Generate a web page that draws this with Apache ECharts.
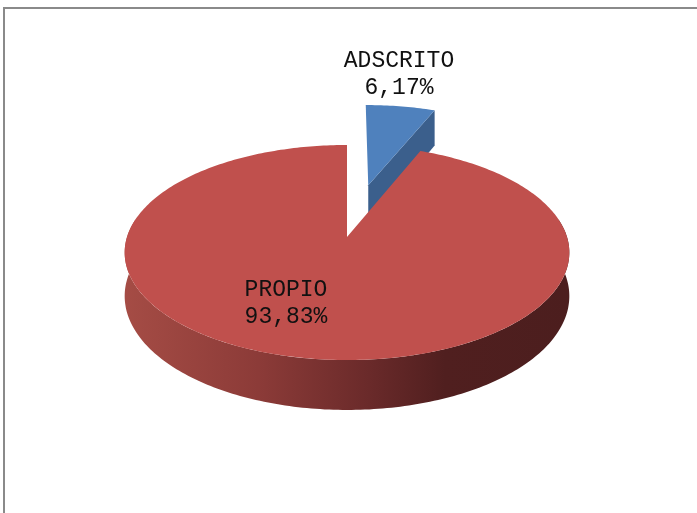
<!DOCTYPE html>
<html>
<head>
<meta charset="utf-8">
<script src="https://cdn.jsdelivr.net/npm/echarts@6/dist/echarts.min.js"></script>
<style>
  html, body { margin: 0; padding: 0; background: #fff; }
  #main { width: 697px; height: 513px; }
</style>
</head>
<body>
<div id="main"></div>
<script>
// datos del grafico
var categories = ['ADSCRITO', 'PROPIO'];
var values = [6.17, 93.83];

var total = values.reduce(function (a, b) { return a + b; }, 0);

// geometria de la tarta 3D (perspectiva simple)
var CX = 347, CY = 237, RX = 220, RY = 105.3, D = 6.93, H = 42.7;
var explodeBy = [0.54, 0];
var topColors = ['#4f81bd', '#c0504d'];
var faceColors = ['#3b5f8c', '#7a2f2d'];
var labelPos = [[399, 74], [286, 303]];

function proj(u, v, down) {
  var s = D / (D - v);
  return [CX + RX * u * s, CY + (RY * v + down) * s];
}
function rad(a) { return a * Math.PI / 180; }

function renderItem(params, api) {
  var i = params.dataIndex;
  var before = 0;
  for (var k = 0; k < i; k++) before += values[k];
  var start = before / total * 360;
  var end = start + api.value(0) / total * 360;
  var mid = rad((start + end) / 2);
  var du = explodeBy[i] * Math.sin(mid), dv = -explodeBy[i] * Math.cos(mid);

  function rim(a, down) { return proj(du + Math.sin(rad(a)), dv - Math.cos(rad(a)), down); }
  function ctr(down) { return proj(du, dv, down); }
  function arc(a0, a1, down) {
    var pts = [], n = Math.max(2, Math.ceil((a1 - a0) / 1));
    for (var j = 0; j <= n; j++) pts.push(rim(a0 + (a1 - a0) * j / n, down));
    return pts;
  }

  var children = [];

  // pared exterior (solo la parte delantera)
  var w0 = Math.max(start, 80), w1 = Math.min(end, 280);
  if (w1 > w0) {
    var pts = arc(w0, w1, 0).concat(arc(w0, w1, H).reverse());
    children.push({
      type: 'polygon',
      shape: { points: pts },
      style: {
        fill: {
          type: 'linear', x: 0, y: 0, x2: 1, y2: 0,
          colorStops: [
            { offset: 0, color: '#a54c45' },
            { offset: 0.3, color: '#8c3b38' },
            { offset: 0.55, color: '#6a2a2a' },
            { offset: 0.72, color: '#501f1f' },
            { offset: 1, color: '#4c1e1e' }
          ]
        }
      }
    });
  }

  // caras de corte visibles
  if (-Math.sin(rad(start)) > 0.01) {
    children.push({ type: 'polygon', shape: { points: [ctr(0), rim(start, 0), rim(start, H), ctr(H)] },
      style: { fill: faceColors[i] } });
  }
  if (Math.sin(rad(end)) > 0.01) {
    children.push({ type: 'polygon', shape: { points: [ctr(0), rim(end, 0), rim(end, H), ctr(H)] },
      style: { fill: faceColors[i] } });
  }

  // cara superior
  children.push({
    type: 'polygon',
    shape: { points: [ctr(0)].concat(arc(start, end, 0)) },
    style: { fill: topColors[i] }
  });

  // etiqueta
  var pct = (api.value(0) / total * 100).toFixed(2).replace('.', ',') + '%';
  children.push({
    type: 'text',
    style: {
      text: categories[i] + '\n' + pct,
      x: labelPos[i][0], y: labelPos[i][1],
      align: 'center', verticalAlign: 'middle',
      fontFamily: 'Liberation Mono', fontSize: 23, lineHeight: 27,
      fill: '#111'
    }
  });

  return { type: 'group', children: children };
}

var chart = echarts.init(document.getElementById('main'));
chart.setOption({
  animation: false,
  backgroundColor: '#fff',
  graphic: [{
    type: 'rect',
    shape: { x: 4, y: 8, width: 900, height: 700 },
    style: { fill: 'none', stroke: '#8a8a8a', lineWidth: 2 },
    z: 10
  }],
  series: [{
    type: 'custom',
    coordinateSystem: 'none',
    renderItem: renderItem,
    data: values.map(function (v, i) { return { name: categories[i], value: v }; })
  }]
});
</script>
</body>
</html>
